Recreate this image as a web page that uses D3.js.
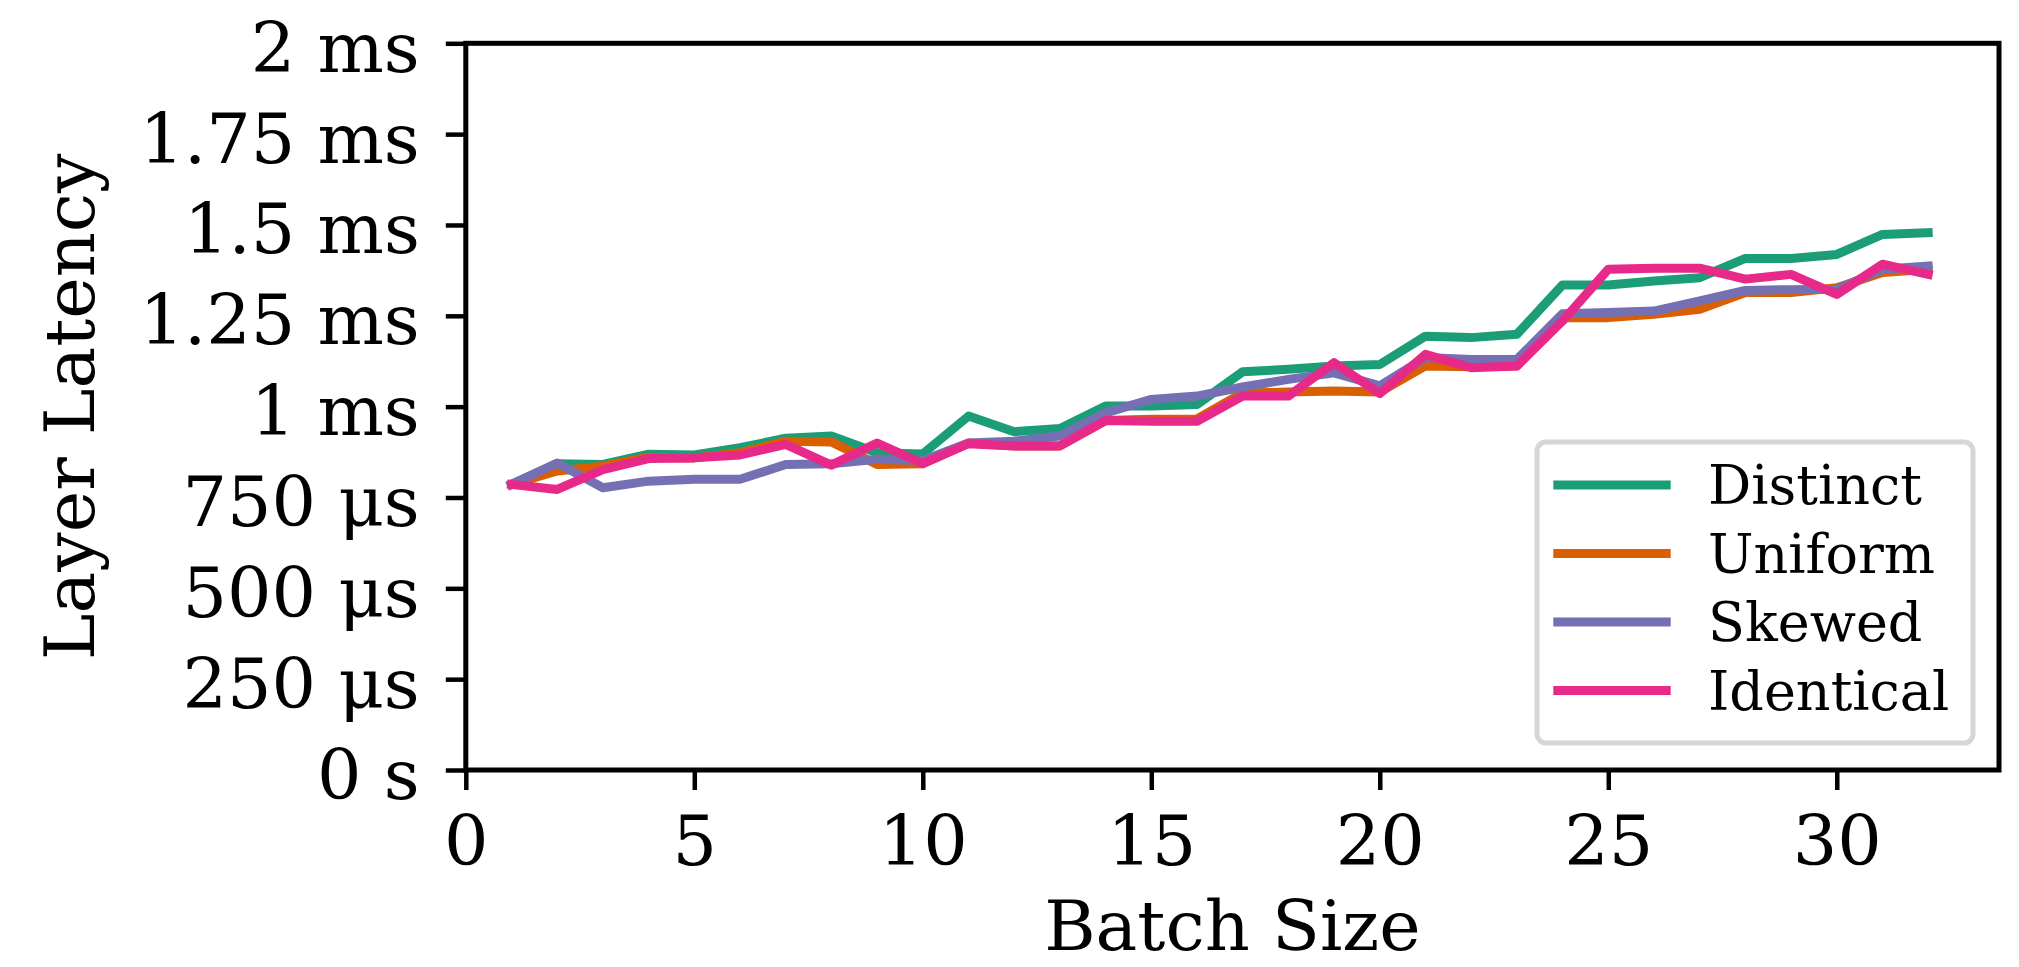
<html>
  <head>
    <style>
      body { margin: 0; background: #fff; }
      svg text { font-family: "DejaVu Serif", serif; fill: #000; }
    </style>
  </head>
  <body>
    <div id="chart"></div>
    <script src="https://cdn.jsdelivr.net/npm/d3@7"></script>
    <script>
      const batchSizes = [1, 2, 3, 4, 5, 6, 7, 8, 9, 10, 11, 12, 13, 14, 15, 16,
                          17, 18, 19, 20, 21, 22, 23, 24, 25, 26, 27, 28, 29, 30, 31, 32];

      // latency in ms
      const distinct = [0.786, 0.843, 0.841, 0.869, 0.867, 0.887, 0.913, 0.919, 0.873, 0.870, 0.974, 0.931, 0.940, 1.002, 1.002, 1.006,
                        1.096, 1.103, 1.112, 1.116, 1.194, 1.190, 1.199, 1.335, 1.335, 1.346, 1.355, 1.408, 1.408, 1.419, 1.474, 1.479];
      const uniform = [0.786, 0.823, 0.836, 0.861, 0.859, 0.873, 0.905, 0.903, 0.841, 0.843, 0.900, 0.892, 0.892, 0.962, 0.965, 0.966,
                       1.038, 1.040, 1.043, 1.040, 1.112, 1.110, 1.112, 1.245, 1.245, 1.254, 1.268, 1.314, 1.314, 1.327, 1.369, 1.378];
      const skewed = [0.786, 0.845, 0.777, 0.795, 0.800, 0.800, 0.841, 0.843, 0.855, 0.852, 0.900, 0.905, 0.919, 0.983, 1.020, 1.029,
                      1.054, 1.075, 1.093, 1.057, 1.135, 1.130, 1.130, 1.256, 1.259, 1.263, 1.291, 1.320, 1.322, 1.323, 1.378, 1.387];
      const identical = [0.786, 0.772, 0.827, 0.857, 0.859, 0.867, 0.896, 0.839, 0.900, 0.843, 0.898, 0.892, 0.892, 0.962, 0.960, 0.960,
                         1.029, 1.029, 1.121, 1.036, 1.144, 1.107, 1.112, 1.236, 1.378, 1.381, 1.381, 1.351, 1.364, 1.309, 1.392, 1.364];

      const seriesNames = ["Distinct", "Uniform", "Skewed", "Identical"];
      const seriesValues = [distinct, uniform, skewed, identical];
      const colors = ["#1b9e77", "#d95f02", "#7570b3", "#e7298a"];

      const xTicks = [0, 5, 10, 15, 20, 25, 30];
      const yTicks = [0, 0.25, 0.5, 0.75, 1, 1.25, 1.5, 1.75, 2];
      const yTickLabels = ["0 s", "250 μs", "500 μs", "750 μs", "1 ms", "1.25 ms", "1.5 ms", "1.75 ms", "2 ms"];

      const width = 2019;
      const height = 967;
      const plot = { left: 465.8, right: 1999, top: 43.3, bottom: 770 };

      const svg = d3.select("#chart")
        .append("svg")
        .attr("width", width)
        .attr("height", height);

      const x = d3.scaleLinear().domain([0, 33.55]).range([plot.left, plot.right]);
      const y = d3.scaleLinear().domain([0, 2]).range([plot.bottom, plot.top]);

      const line = d3.line()
        .x((d, i) => x(batchSizes[i]))
        .y(d => y(d));

      // lines
      svg.selectAll("path.series")
        .data(seriesValues)
        .enter()
        .append("path")
        .attr("class", "series")
        .attr("d", line)
        .attr("fill", "none")
        .attr("stroke", (d, i) => colors[i])
        .attr("stroke-width", 9)
        .attr("stroke-linejoin", "round")
        .attr("stroke-linecap", "square");

      // frame
      svg.append("rect")
        .attr("x", plot.left).attr("y", plot.top)
        .attr("width", plot.right - plot.left).attr("height", plot.bottom - plot.top)
        .attr("fill", "none")
        .attr("stroke", "#000")
        .attr("stroke-width", 5);

      // axes
      const xAxis = svg.append("g")
        .attr("transform", `translate(0,${plot.bottom})`)
        .call(d3.axisBottom(x).tickValues(xTicks).tickFormat(d3.format("d")).tickSize(20).tickPadding(25));

      const yAxis = svg.append("g")
        .attr("transform", `translate(${plot.left},0)`)
        .call(d3.axisLeft(y).tickValues(yTicks).tickFormat((d, i) => yTickLabels[i]).tickSize(20).tickPadding(26));

      [xAxis, yAxis].forEach(g => {
        g.select(".domain").remove();
        g.selectAll(".tick line").attr("stroke", "#000").attr("stroke-width", 4.5);
        g.selectAll(".tick text").attr("font-size", 70).attr("font-family", "DejaVu Serif");
      });
      yAxis.selectAll(".tick text").attr("dy", "0.4em");

      svg.append("text")
        .attr("x", (plot.left + plot.right) / 2)
        .attr("y", 950)
        .attr("text-anchor", "middle")
        .attr("font-size", 70)
        .text("Batch Size");

      svg.append("text")
        .attr("transform", `translate(94,${(plot.top + plot.bottom) / 2}) rotate(-90)`)
        .attr("text-anchor", "middle")
        .attr("font-size", 70)
        .text("Layer Latency");

      // legend
      const legend = svg.append("g");
      legend.append("rect")
        .attr("x", 1537).attr("y", 442)
        .attr("width", 436).attr("height", 301)
        .attr("rx", 9)
        .attr("fill", "#fff")
        .attr("fill-opacity", 0.8)
        .attr("stroke", "#d6d6d6")
        .attr("stroke-width", 5);

      const rows = legend.selectAll("g.row")
        .data(seriesNames)
        .enter()
        .append("g")
        .attr("class", "row")
        .attr("transform", (d, i) => `translate(0,${485 + i * 68.5})`);

      rows.append("line")
        .attr("x1", 1553.3).attr("x2", 1670.7)
        .attr("stroke", (d, i) => colors[i])
        .attr("stroke-width", 9);

      rows.append("text")
        .attr("x", 1708)
        .attr("dy", "0.36em")
        .attr("font-size", 54)
        .text(d => d);
    </script>
  </body>
</html>
